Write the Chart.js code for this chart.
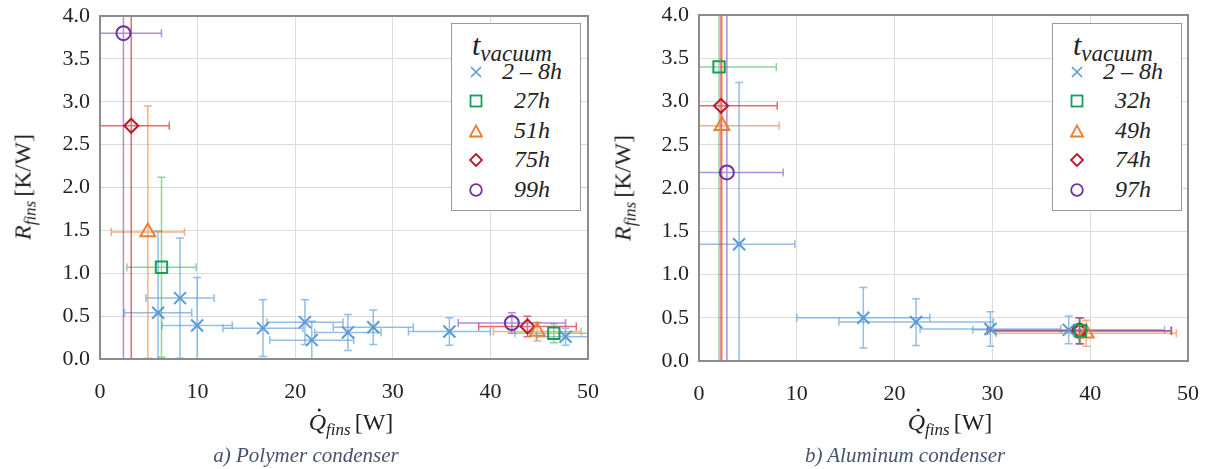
<!DOCTYPE html>
<html>
<head>
<meta charset="utf-8">
<script src="https://cdn.jsdelivr.net/npm/chart.js@4.4.1/dist/chart.umd.min.js"></script>
<style>
  body { margin:0; width:1211px; height:469px; background:#fff; position:relative; overflow:hidden;
         font-family:'Liberation Serif', 'DejaVu Serif', serif; color:#222; }
  canvas { position:absolute; top:0; }
  .ytitle, .xtitle, .caption { position:absolute; white-space:nowrap; transform:translate(-50%,-50%); }
  .ytitle { font-size:24px; transform:translate(-50%,-50%) rotate(-90deg); }
  .xtitle { font-size:24px; }
  .sub { font-style:italic; font-size:17px; position:relative; top:5px; margin-right:4px; }
  .qd { position:relative; font-style:italic; }
  .qd::after { content:''; position:absolute; left:9px; top:0px; width:3px; height:3px; border-radius:50%; background:#222; }
  .caption { font-style:italic; font-size:21px; color:#44546a; }
  .legend { position:absolute; width:128px; height:186px; border:1.5px solid #999; background:#fff; z-index:2; }
  .legend .ttl { position:absolute; left:20px; top:4px; font-style:italic; font-size:30px; white-space:nowrap; }
  .legend .ttl span { font-size:23px; position:relative; top:6px; }
  .legend .row { position:absolute; left:0; width:128px; height:28px; }
  .legend .row svg { position:absolute; left:17px; top:7px; }
  .legend .row div { position:absolute; left:44px; width:72px; text-align:center; top:0px; font-style:italic; font-size:24px; }
</style>
</head>
<body>
<canvas id="chartA" width="600" height="410" style="left:0"></canvas>
<canvas id="chartB" width="606" height="410" style="left:605px"></canvas>

<div class="ytitle" style="left:23px; top:187px"><i>R</i><span class="sub">fins</span>[K/W]</div>
<div class="ytitle" style="left:623px; top:188px"><i>R</i><span class="sub">fins</span>[K/W]</div>
<div class="xtitle" style="left:351px; top:422px"><span class="qd">Q</span><span class="sub">fins</span>[W]</div>
<div class="xtitle" style="left:950px; top:422px"><span class="qd">Q</span><span class="sub">fins</span>[W]</div>
<div class="caption" style="left:306px; top:455px">a) Polymer condenser</div>
<div class="caption" style="left:905px; top:455px">b) Aluminum condenser</div>

<div class="legend" id="legA" style="left:451px; top:23px"></div>
<div class="legend" id="legB" style="left:1052px; top:23px"></div>

<script>
// axis ranges
const xRange = [0, 50];
const yRange = [0, 4];

// legend labels
const polyLabels = ['2 – 8h', '27h', '51h', '75h', '99h'];
const alLabels = ['2 – 8h', '32h', '49h', '74h', '97h'];

// a) polymer condenser: Q_fins [W], R_fins [K/W], with x/y errors
const poly_2to8 = [
  { x: 5.95, y: 0.54, ex: 3.45, ey: 0.95 },
  { x: 8.2, y: 0.71, ex: 3.5, ey: 0.7 },
  { x: 9.95, y: 0.39, ex: 3.6, ey: 0.56 },
  { x: 16.7, y: 0.36, ex: 4.1, ey: 0.33 },
  { x: 21.0, y: 0.43, ex: 3.9, ey: 0.26 },
  { x: 21.7, y: 0.22, ex: 4.3, ey: 0.22 },
  { x: 25.4, y: 0.31, ex: 3.4, ey: 0.21 },
  { x: 28.0, y: 0.37, ex: 4.1, ey: 0.2 },
  { x: 35.8, y: 0.32, ex: 4.2, ey: 0.16 },
  { x: 47.7, y: 0.26, ex: 3.0, ey: 0.1 }
];
const poly_27 = [
  { x: 6.3, y: 1.07, ex: 3.55, ey: 1.05 },
  { x: 46.5, y: 0.30, ex: 4.0, ey: 0.11 }
];
const poly_51 = [
  { x: 4.9, y: 1.48, ex: 3.75, ey: 1.47 },
  { x: 44.8, y: 0.32, ex: 4.5, ey: 0.11 }
];
const poly_75 = [
  { x: 3.2, y: 2.72, ex: 3.9, ey: 2.9 },
  { x: 43.8, y: 0.38, ex: 5.0, ey: 0.12 }
];
const poly_99 = [
  { x: 2.4, y: 3.80, ex: 3.9, ey: 3.9 },
  { x: 42.2, y: 0.42, ex: 5.5, ey: 0.12 }
];

// b) aluminum condenser
const al_2to8 = [
  { x: 4.1, y: 1.35, ex: 5.7, ey: 1.87 },
  { x: 16.8, y: 0.50, ex: 6.8, ey: 0.35 },
  { x: 22.2, y: 0.45, ex: 7.9, ey: 0.27 },
  { x: 29.8, y: 0.37, ex: 7.2, ey: 0.2 },
  { x: 37.8, y: 0.36, ex: 9.8, ey: 0.16 }
];
const al_32 = [
  { x: 2.05, y: 3.40, ex: 5.85, ey: 4.0 },
  { x: 39.0, y: 0.35, ex: 9.3, ey: 0.15 }
];
const al_49 = [
  { x: 2.35, y: 2.72, ex: 5.85, ey: 4.0 },
  { x: 39.6, y: 0.32, ex: 9.2, ey: 0.15 }
];
const al_74 = [
  { x: 2.25, y: 2.95, ex: 5.75, ey: 4.0 },
  { x: 38.9, y: 0.35, ex: 9.4, ey: 0.15 }
];
const al_97 = [
  { x: 2.85, y: 2.18, ex: 5.75, ey: 4.0 },
  { x: 38.9, y: 0.35, ex: 9.4, ey: 0.15 }
];

const styles = [
  { pointStyle: 'crossRot', radius: 8.5, color: '#5b9bd5', err: 'rgba(91,155,213,0.65)' },
  { pointStyle: 'rect', radius: 8, color: '#14a050', err: 'rgba(60,170,80,0.55)' },
  { pointStyle: 'triangle', radius: 8.5, color: '#ed7d31', err: 'rgba(237,125,49,0.6)' },
  { pointStyle: 'rectRot', radius: 7, color: '#c01428', err: 'rgba(222,40,55,0.7)' },
  { pointStyle: 'circle', radius: 7, color: '#7030a0', err: 'rgba(140,95,200,0.7)' }
];

const errorBars = {
  id: 'errorBars',
  beforeDatasetsDraw(chart) {
    const { ctx, chartArea: a, scales: { x, y } } = chart;
    ctx.save();
    ctx.beginPath();
    ctx.rect(a.left, a.top, a.right - a.left, a.bottom - a.top);
    ctx.clip();
    ctx.lineWidth = 1.5;
    chart.data.datasets.forEach(ds => {
      ctx.strokeStyle = ds.errColor;
      ds.data.forEach(p => {
        const px = x.getPixelForValue(p.x), py = y.getPixelForValue(p.y);
        const x0 = x.getPixelForValue(p.x - p.ex), x1 = x.getPixelForValue(p.x + p.ex);
        const y0 = y.getPixelForValue(p.y - p.ey), y1 = y.getPixelForValue(p.y + p.ey);
        const c = 4;
        ctx.beginPath();
        ctx.moveTo(x0, py); ctx.lineTo(x1, py);
        ctx.moveTo(x0, py - c); ctx.lineTo(x0, py + c);
        ctx.moveTo(x1, py - c); ctx.lineTo(x1, py + c);
        ctx.moveTo(px, y0); ctx.lineTo(px, y1);
        ctx.moveTo(px - c, y0); ctx.lineTo(px + c, y0);
        ctx.moveTo(px - c, y1); ctx.lineTo(px + c, y1);
        ctx.stroke();
      });
    });
    ctx.restore();
  }
};

const frame = {
  id: 'frame',
  afterDraw(chart) {
    const { ctx, chartArea: a } = chart;
    ctx.save();
    ctx.strokeStyle = '#8c8c8c';
    ctx.lineWidth = 2;
    ctx.strokeRect(a.left, a.top, a.right - a.left, a.bottom - a.top);
    ctx.restore();
  }
};

function makeChart(id, series, labels, pad, yWidth, xHeight) {
  const datasets = series.map((data, i) => ({
    label: labels[i],
    data: data,
    pointStyle: styles[i].pointStyle,
    pointRadius: styles[i].radius,
    pointBorderColor: styles[i].color,
    pointBackgroundColor: 'rgba(0,0,0,0)',
    pointBorderWidth: 2,
    showLine: false,
    errColor: styles[i].err
  }));
  const tickFont = { family: "'Liberation Serif', 'Times New Roman', serif", size: 22 };
  return new Chart(document.getElementById(id), {
    type: 'scatter',
    data: { datasets },
    options: {
      responsive: false,
      animation: false,
      layout: { padding: pad },
      plugins: { legend: { display: false }, tooltip: { enabled: false } },
      scales: {
        x: {
          min: xRange[0], max: xRange[1],
          ticks: { stepSize: 10, font: tickFont, color: '#222', padding: 20, maxRotation: 0 },
          grid: { color: '#dcdcdc', drawTicks: false },
          border: { display: false },
          afterFit: s => { s.height = xHeight; s.paddingLeft = 0; s.paddingRight = 0; }
        },
        y: {
          min: yRange[0], max: yRange[1],
          ticks: { stepSize: 0.5, font: tickFont, color: '#222', padding: 10,
                   callback: v => v.toFixed(1) },
          grid: { color: '#dcdcdc', drawTicks: false },
          border: { display: false },
          afterFit: s => { s.width = yWidth; s.paddingTop = 0; s.paddingBottom = 0; }
        }
      }
    },
    plugins: [errorBars, frame]
  });
}

makeChart('chartA', [poly_2to8, poly_27, poly_51, poly_75, poly_99], polyLabels,
  { top: 16, right: 12, left: 0, bottom: 0 }, 100, 51);
makeChart('chartB', [al_2to8, al_32, al_49, al_74, al_97], alLabels,
  { top: 15, right: 23, left: 0, bottom: 0 }, 94, 49);

// legends
function markerSvg(i) {
  const c = styles[i].color;
  const shapes = [
    `<path d="M2 2 L12 12 M12 2 L2 12" stroke="${c}" stroke-width="1.6" fill="none"/>`,
    `<rect x="1.5" y="1.5" width="11" height="11" stroke="${c}" stroke-width="1.8" fill="none"/>`,
    `<path d="M7 1.5 L13 12.5 L1 12.5 Z" stroke="${c}" stroke-width="1.8" fill="none"/>`,
    `<path d="M7 1 L13 7 L7 13 L1 7 Z" stroke="${c}" stroke-width="1.8" fill="none"/>`,
    `<circle cx="7" cy="7" r="5.8" stroke="${c}" stroke-width="1.8" fill="none"/>`
  ];
  return `<svg width="14" height="14" viewBox="0 0 14 14">${shapes[i]}</svg>`;
}
function makeLegend(id, labels) {
  const el = document.getElementById(id);
  let html = '<div class="ttl">t<span>vacuum</span></div>';
  const rowTops = [34, 63, 93, 122, 152];
  labels.forEach((lab, i) => {
    html += `<div class="row" style="top:${rowTops[i]}px">${markerSvg(i)}<div>${lab}</div></div>`;
  });
  el.innerHTML = html;
}
makeLegend('legA', polyLabels);
makeLegend('legB', alLabels);
</script>
</body>
</html>
